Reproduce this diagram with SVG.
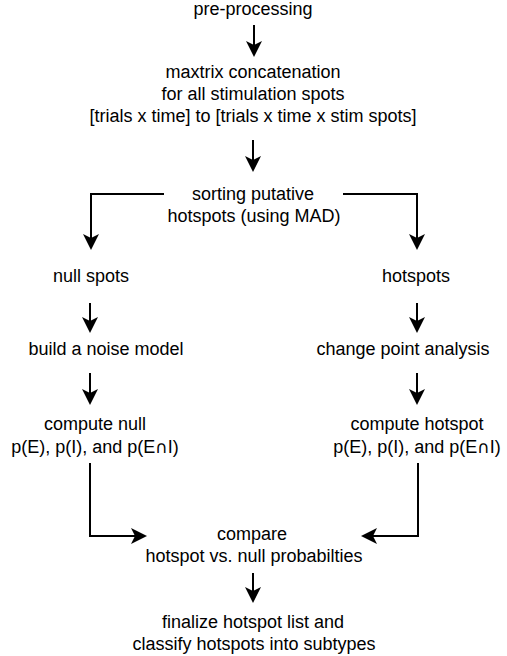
<svg xmlns="http://www.w3.org/2000/svg" width="507" height="656" viewBox="0 0 507 656">
<style>
text{font-family:"Liberation Sans",Arial,sans-serif;font-size:18px;fill:#000;text-anchor:middle}
.cap{font-family:"DejaVu Sans",sans-serif;font-size:17px}
.c{fill:none;stroke:#000;stroke-width:2}
</style>
<defs>
<marker id="ah" markerUnits="userSpaceOnUse" markerWidth="17" markerHeight="17" viewBox="0 -8.5 17 17" refX="4" refY="0" orient="auto" overflow="visible">
<path d="M0,-8 L16,0 L0,8 L4,0 Z" fill="#000"/>
</marker>
</defs>
<rect width="507" height="656" fill="#fff"/>
<g id="connectors">
<path class="c" d="M254,25 V45" marker-end="url(#ah)"/>
<path class="c" d="M253,140 V160" marker-end="url(#ah)"/>
<path class="c" d="M164,194 H91 V238" marker-end="url(#ah)"/>
<path class="c" d="M343,194 H417 V238" marker-end="url(#ah)"/>
<path class="c" d="M90,303 V321" marker-end="url(#ah)"/>
<path class="c" d="M417,303 V321" marker-end="url(#ah)"/>
<path class="c" d="M90,373 V393" marker-end="url(#ah)"/>
<path class="c" d="M417,373 V393" marker-end="url(#ah)"/>
<path class="c" d="M90,463 V536 H135" marker-end="url(#ah)"/>
<path class="c" d="M418,463 V536 H373" marker-end="url(#ah)"/>
<path class="c" d="M253,573 V591" marker-end="url(#ah)"/>
</g>
<g id="preprocessing"><text x="253" y="15">pre-processing</text></g>
<g id="concatenation">
<text x="253" y="78">maxtrix concatenation</text>
<text x="253" y="100">for all stimulation spots</text>
<text x="253" y="122">[trials x time] to [trials x time x stim spots]</text>
</g>
<g id="sorting">
<text x="253" y="200">sorting putative</text>
<text x="254" y="222">hotspots (using MAD)</text>
</g>
<g id="nullspots"><text x="91" y="282">null spots</text></g>
<g id="hotspots"><text x="416" y="282">hotspots</text></g>
<g id="noisemodel"><text x="106" y="355">build a noise model</text></g>
<g id="changepoint"><text x="403" y="355">change point analysis</text></g>
<g id="computenull">
<text x="95" y="430">compute null</text>
<text x="95" y="453">p(E), p(I), and p(E<tspan class="cap">∩</tspan>I)</text>
</g>
<g id="computehotspot">
<text x="417" y="430">compute hotspot</text>
<text x="417" y="453">p(E), p(I), and p(E<tspan class="cap">∩</tspan>I)</text>
</g>
<g id="compare">
<text x="252" y="540">compare</text>
<text x="254" y="562">hotspot vs. null probabilties</text>
</g>
<g id="finalize">
<text x="253" y="628">finalize hotspot list and</text>
<text x="254" y="650">classify hotspots into subtypes</text>
</g>
</svg>
